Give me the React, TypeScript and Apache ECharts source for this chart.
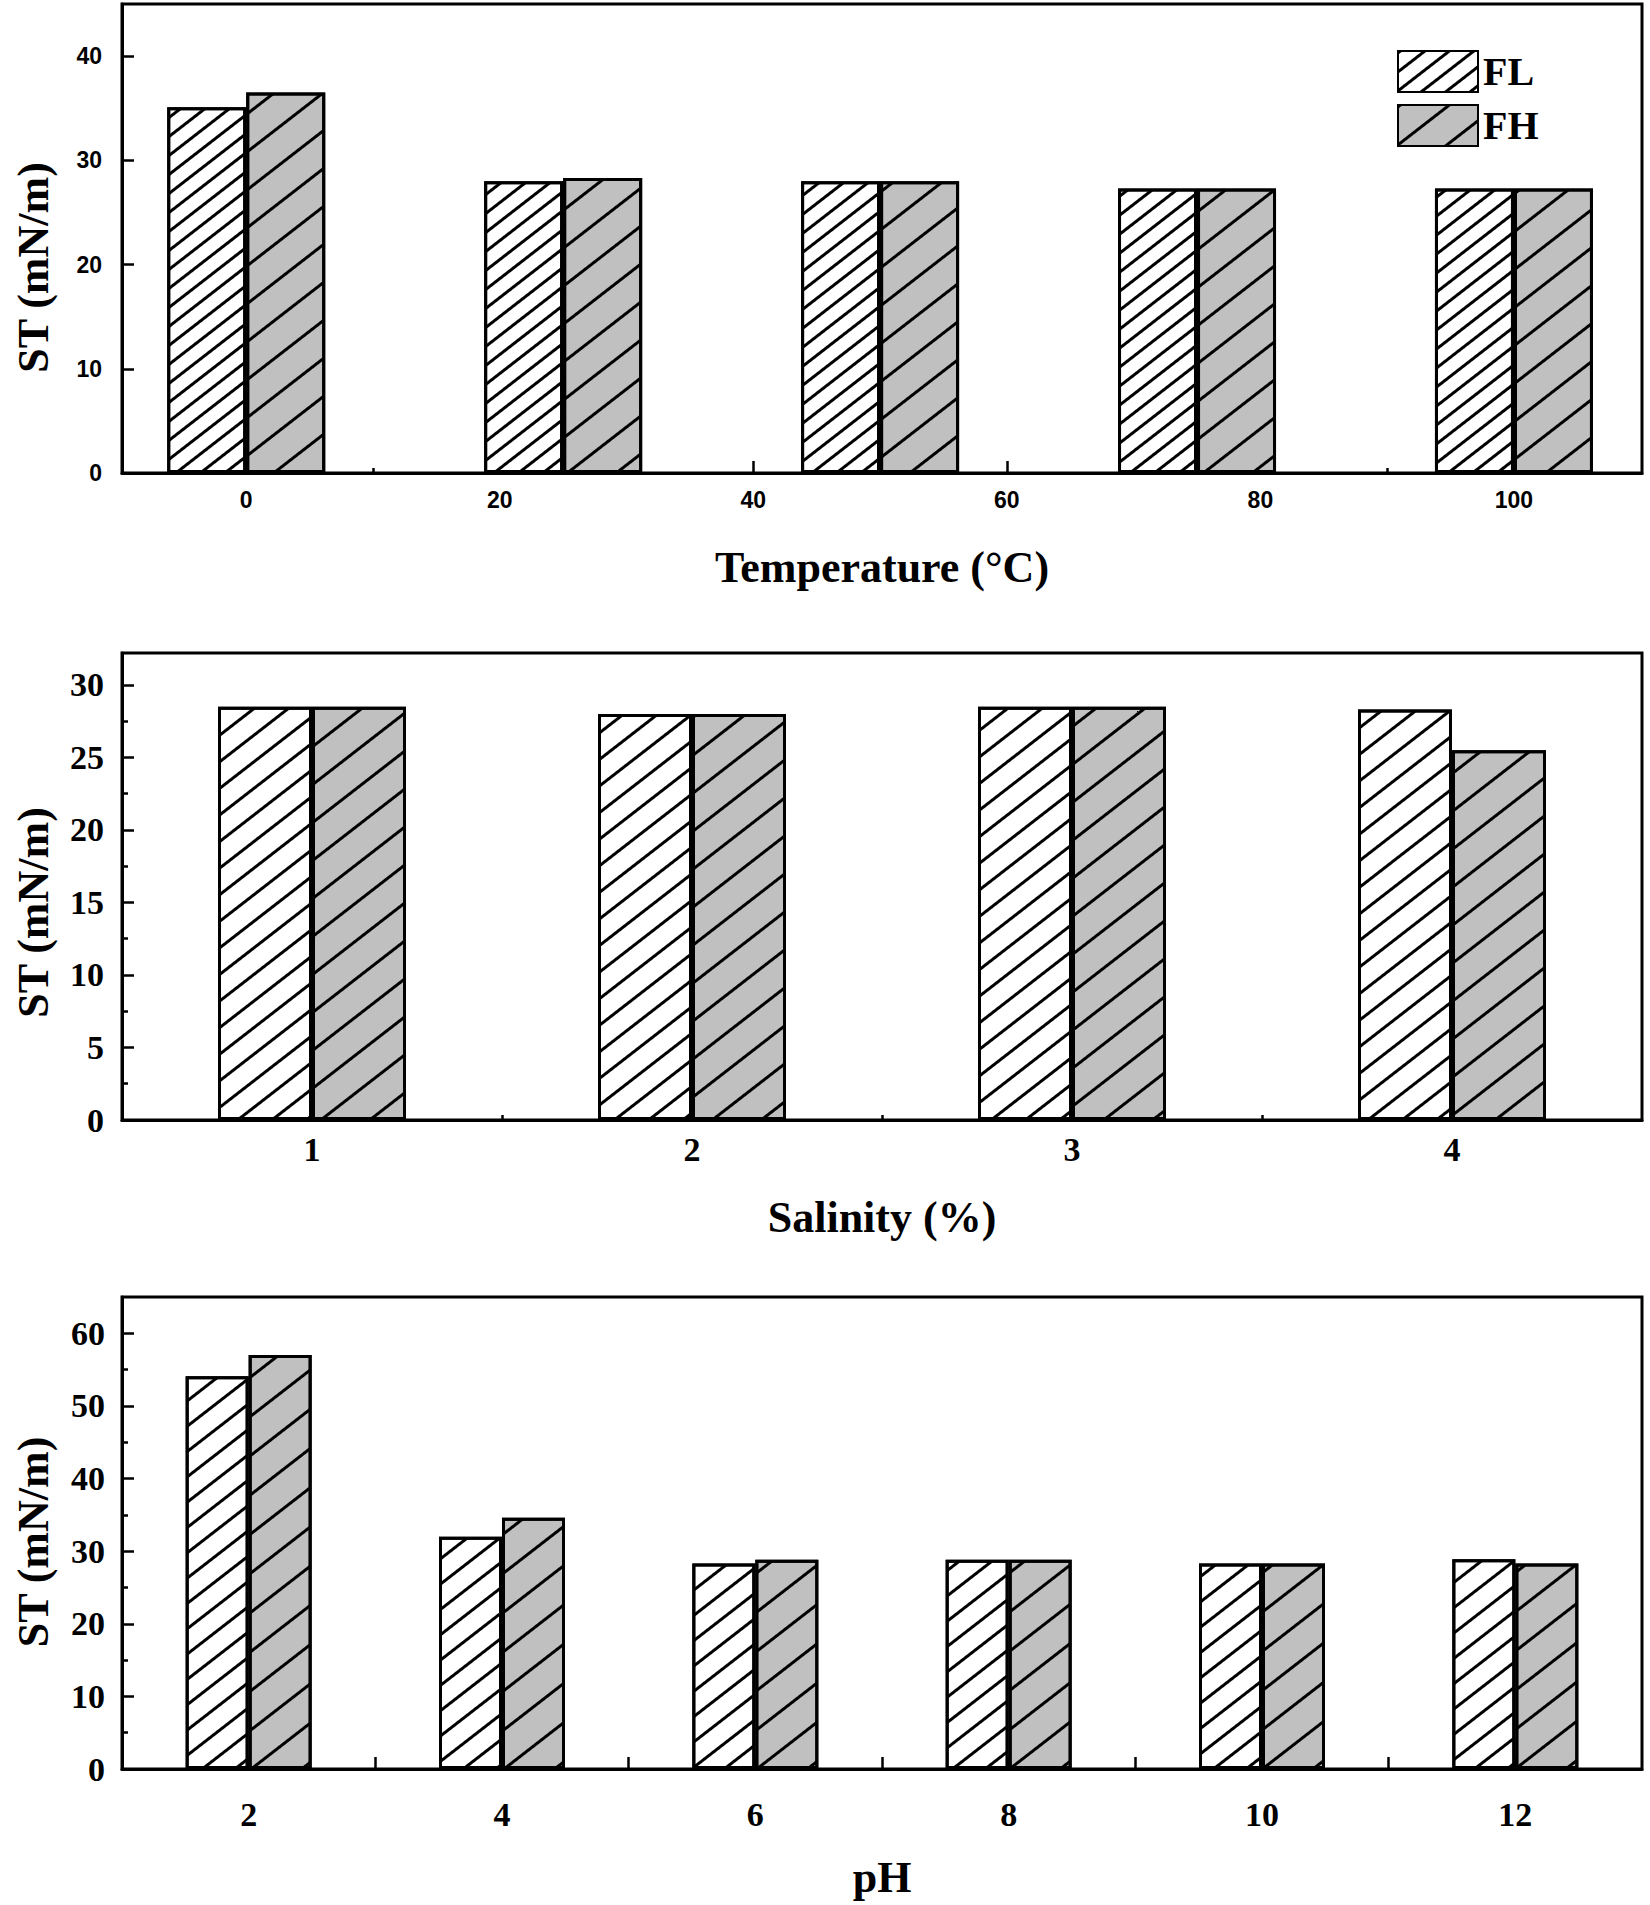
import React, { useEffect, useRef } from 'react';
import * as echarts from 'echarts';

// ---- data ----
const seriesNames = ['FL', 'FH'];

const tempX = [0, 25, 50, 75, 100];
const tempFL = [35.1, 28.0, 28.0, 27.3, 27.3];
const tempFH = [36.5, 28.3, 28.0, 27.3, 27.3];
const tempLabels = [0, 20, 40, 60, 80, 100];
const tempMinorTicks = [10, 30, 50, 70, 90];
const tempYLabels = [0, 10, 20, 30, 40];
const tempYMinor = [5, 15, 25, 35];

const salX = [1, 2, 3, 4];
const salFL = [28.5, 28.0, 28.5, 28.3];
const salFH = [28.5, 28.0, 28.5, 25.5];
const salLabels = [1, 2, 3, 4];
const salMinorTicks = [1.5, 2.5, 3.5];
const salYLabels = [0, 5, 10, 15, 20, 25, 30];
const salYMinor = [2.5, 7.5, 12.5, 17.5, 22.5, 27.5];

const phX = [2, 4, 6, 8, 10, 12];
const phFL = [54.1, 32.0, 28.3, 28.8, 28.3, 28.9];
const phFH = [57.0, 34.6, 28.8, 28.8, 28.3, 28.3];
const phLabels = [2, 4, 6, 8, 10, 12];
const phMajorTicks = [2, 3, 4, 5, 6, 7, 8, 9, 10, 11, 12];
const phYLabels = [0, 10, 20, 30, 40, 50, 60];
const phYMinor = [5, 15, 25, 35, 45, 55];

const SERIF = '"Liberation Serif", "Times New Roman", serif';
const SANS = '"Liberation Sans", Arial, sans-serif';

const ANG = -0.66;

function decal(gap: number) {
  return {
    symbol: 'rect',
    symbolSize: 1,
    symbolKeepAspect: false,
    dashArrayX: [1, 0],
    dashArrayY: [3, gap],
    rotation: ANG,
    color: '#000',
  };
}

interface Panel {
  grid: { left: number; top: number; width: number; height: number };
  xMin: number; xMax: number;
  yMin: number; yMax: number;
  xLabels: number[]; xMajor: number[]; xMinor: number[];
  yLabels: number[]; yMinor: number[];
  labelFont: any;
  xMargin: number; yMargin: number;
  xName: string; xNameGap: number;
  yNameShift: number;
  xs: number[]; fl: number[]; fh: number[];
  barWidth: number;
  gapFL: number; gapFH: number;
}

const panels: Panel[] = [
  {
    grid: { left: 122, top: 4, width: 1520, height: 469 },
    xMin: -9.8, xMax: 110.1, yMin: 0, yMax: 45,
    xLabels: tempLabels, xMajor: tempLabels, xMinor: tempMinorTicks,
    yLabels: tempYLabels, yMinor: tempYMinor,
    labelFont: { fontFamily: SANS, fontWeight: 'bold', fontSize: 23 },
    xMargin: 15, yMargin: 20,
    xName: 'Temperature (°C)', xNameGap: 72,
    yNameShift: 29,
    xs: tempX, fl: tempFL, fh: tempFH,
    barWidth: 79, gapFL: 12, gapFH: 27,
  },
  {
    grid: { left: 122, top: 653, width: 1520, height: 467 },
    xMin: 0.5, xMax: 4.5, yMin: 0, yMax: 32.2,
    xLabels: salLabels, xMajor: salLabels, xMinor: salMinorTicks,
    yLabels: salYLabels, yMinor: salYMinor,
    labelFont: { fontFamily: SERIF, fontWeight: 'bold', fontSize: 34 },
    xMargin: 12, yMargin: 18,
    xName: 'Salinity (%)', xNameGap: 75,
    yNameShift: 26,
    xs: salX, fl: salFL, fh: salFH,
    barWidth: 94, gapFL: 18, gapFH: 27,
  },
  {
    grid: { left: 122, top: 1297, width: 1520, height: 472 },
    xMin: 1, xMax: 13, yMin: 0, yMax: 65,
    xLabels: phLabels, xMajor: phMajorTicks, xMinor: [],
    yLabels: phYLabels, yMinor: phYMinor,
    labelFont: { fontFamily: SERIF, fontWeight: 'bold', fontSize: 34 },
    xMargin: 28, yMargin: 17,
    xName: 'pH', xNameGap: 86,
    yNameShift: 9,
    xs: phX, fl: phFL, fh: phFH,
    barWidth: 63, gapFL: 17, gapFH: 28,
  },
];

const nameStyle = { fontFamily: SERIF, fontWeight: 'bold', fontSize: 44, color: '#000' };

function buildOption() {
  const grids: any[] = [];
  const xAxes: any[] = [];
  const yAxes: any[] = [];
  const series: any[] = [];
  panels.forEach((p, gi) => {
    grids.push({
      ...p.grid,
      show: true,
      borderColor: '#000',
      borderWidth: 3,
      backgroundColor: 'transparent',
      outerBoundsMode: 'none',
      containLabel: false,
    });
    xAxes.push({
      type: 'value', gridIndex: gi, min: p.xMin, max: p.xMax, position: 'bottom',
      name: p.xName, nameLocation: 'middle', nameGap: p.xNameGap, nameTextStyle: nameStyle,
      axisLine: { show: true, onZero: false, lineStyle: { color: '#000', width: 3 } },
      axisTick: { show: true, inside: true, length: 12, lineStyle: { color: '#000', width: 2.5 }, customValues: p.xMajor },
      axisLabel: { show: true, color: '#000', margin: p.xMargin, customValues: p.xLabels, ...p.labelFont },
      splitLine: { show: false },
      minorTick: { show: false },
    });
    xAxes.push({
      type: 'value', gridIndex: gi, min: p.xMin, max: p.xMax, position: 'bottom',
      axisLine: { show: false },
      axisTick: { show: p.xMinor.length > 0, inside: true, length: 5, lineStyle: { color: '#000', width: 2.5 }, customValues: p.xMinor.length ? p.xMinor : [p.xMin] },
      axisLabel: { show: false },
      splitLine: { show: false },
    });
    yAxes.push({
      type: 'value', gridIndex: gi, min: p.yMin, max: p.yMax, position: 'left',
      name: 'ST (mN/m)', nameLocation: 'middle', nameGap: 67,
      nameTextStyle: { ...nameStyle, padding: [0, p.yNameShift * 2, 0, 0] },
      axisLine: { show: true, onZero: false, lineStyle: { color: '#000', width: 3 } },
      axisTick: { show: true, inside: true, length: 12, lineStyle: { color: '#000', width: 2.5 }, customValues: p.yLabels },
      axisLabel: { show: true, color: '#000', margin: p.yMargin, customValues: p.yLabels, ...p.labelFont },
      splitLine: { show: false },
    });
    yAxes.push({
      type: 'value', gridIndex: gi, min: p.yMin, max: p.yMax, position: 'left',
      axisLine: { show: false },
      axisTick: { show: true, inside: true, length: 6, lineStyle: { color: '#000', width: 2.5 }, customValues: p.yMinor },
      axisLabel: { show: false },
      splitLine: { show: false },
    });
    const mk = (name: string, vals: number[], color: string, gap: number) => ({
      type: 'bar',
      name,
      xAxisIndex: gi * 2,
      yAxisIndex: gi * 2,
      barWidth: p.barWidth,
      barGap: '0%',
      data: p.xs.map((x, i) => [x, vals[i]]),
      itemStyle: { color, borderColor: '#000', borderWidth: 3, decal: decal(gap) },
      z: 3,
    });
    series.push(mk(seriesNames[0], p.fl, '#ffffff', p.gapFL));
    series.push(mk(seriesNames[1], p.fh, '#c0c0c0', p.gapFH));
  });
  return {
    animation: false,
    backgroundColor: '#fff',
    aria: { enabled: true, decal: { show: true } },
    legend: {
      data: seriesNames,
      orient: 'vertical',
      left: 1397,
      top: 50,
      padding: 0,
      itemWidth: 80,
      itemHeight: 41,
      itemGap: 11,
      icon: 'rect',
      textStyle: { fontFamily: SERIF, fontWeight: 'bold', fontSize: 40, color: '#000' },
    },
    grid: grids,
    xAxis: xAxes,
    yAxis: yAxes,
    series,
  };
}

export default function App() {
  const ref = useRef<HTMLDivElement>(null);
  useEffect(() => {
    document.body.style.margin = '0';
    if (!ref.current) return;
    const chart = echarts.init(ref.current, undefined, { renderer: 'svg' });
    chart.setOption(buildOption() as any);
    return () => chart.dispose();
  }, []);
  return <div ref={ref} style={{ width: 1650, height: 1905, background: '#fff' }} />;
}
